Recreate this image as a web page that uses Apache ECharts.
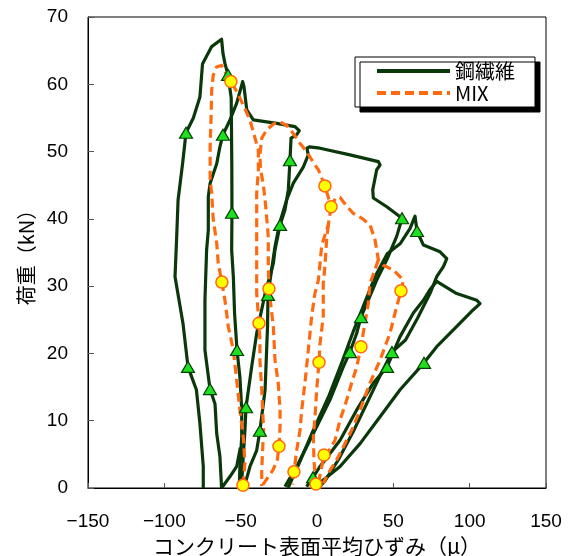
<!DOCTYPE html>
<html>
<head>
<meta charset="utf-8">
<script src="https://cdn.jsdelivr.net/npm/echarts@6/dist/echarts.min.js"></script>
<style>
html,body{margin:0;padding:0;background:#fff;}
#chart{width:571px;height:556px;}
</style>
</head>
<body>
<div id="chart"></div>
<script>
// ---- data (strain in μ, load in kN) ----
const seriesNames = ['鋼繊維', 'MIX'];
const xAxisTitle = 'コンクリート表面平均ひずみ（μ）';
const yAxisTitle = '荷重（kN）';

const steelLoop1 = [[-74.5,0],[-74.5,3.2],[-76.7,9.6],[-79,14.6],[-84.5,18],[-87.8,24.5],[-93,31.4],[-92,36.8],[-91,42.8],[-88,48.3],[-85.8,52.8],[-81,55],[-76.7,58.1],[-75,63],[-69,65.6],[-62.5,66.7],[-61.6,64.6],[-60.3,63.1],[-58.3,61.4],[-56.2,58],[-55.8,48],[-55.7,40.9],[-55.9,35.4],[-54.8,31.4],[-54,26],[-52.4,20.5],[-50.5,16.5],[-49.3,11.6],[-49.3,7.6],[-50.5,3.2],[-50.9,0]];
const steelLoop2 = [[-62.5,0],[-63.6,4.7],[-65.7,8.1],[-66.8,12.5],[-70.1,14.7],[-73.4,20.5],[-73.4,27.9],[-72.3,35.4],[-71.2,38.3],[-71.2,43.3],[-70,45.3],[-65.7,48.2],[-63.6,50.7],[-61.6,52.5],[-57,54.7],[-52.6,57.2],[-48.7,60.4],[-47.8,59.6],[-46,56.2],[-41.7,54.7],[-26.4,54.2],[-14.4,53.7],[-11.6,53.1],[-13.3,52.5],[-17,52],[-17.7,48.7],[-18.8,44.3],[-21,41.3],[-24.2,39.1],[-27.5,35.4],[-28.6,33.4],[-34,28.9],[-39.5,23],[-42.8,18],[-46.5,12],[-47.2,8.6],[-48.3,4.7],[-49.5,0]];
const steelLink = [[-62.5,0],[-57,1.7],[-52.6,3.2],[-50.2,6]];
const steelLoop3 = [[-47.2,0.5],[-43.9,3.2],[-39.5,5.6],[-37.4,8.5],[-34,14.6],[-33,20.5],[-32.4,24],[-32.1,28.7],[-30,32],[-27.5,35.9],[-24.5,39.3],[-19.9,42.8],[-15.5,45.3],[-9,47.7],[-5.7,49.5],[-6.6,50.5],[-5,50.7],[2,50.5],[21.6,49.5],[40.2,48.5],[41.3,48],[39.1,47.3],[36.5,44.3],[36.9,43.1],[45.7,41.8],[55.7,40.1],[52.2,37.4],[45.7,33.9],[39.1,30.9],[32.6,27.4],[28.8,25.4],[26,23],[21.6,20.2],[17.2,18],[8.5,13.1],[-2.4,8.1],[-13.3,3.2],[-21,0.2]];
const steelLoop4 = [[-19,0],[-12,3.5],[-3,8.3],[8,13.8],[16.5,18.8],[24,23.4],[31,27.4],[38,31.4],[46,34.8],[54.4,36.3],[61,38.6],[64.2,40.4],[65.5,38.2],[69.7,36.1],[80.6,35.1],[85,34.1],[82.8,32.9],[78.4,31.4],[74,28.9],[66,25.3],[58,22],[49.1,20.2],[42,17],[34,13.2],[24,8.5],[14,4.2],[5,1],[1,0]];
const steelLoop5 = [[-6.8,0.2],[-2.6,1.6],[2,3.2],[15.1,7.1],[26,11.6],[36.9,15.6],[45.9,18],[54.4,22.5],[63.1,26],[69.7,27.9],[74,29.5],[78.4,30.7],[91.5,28.9],[104.7,27.9],[106.8,27.4],[102.4,26.5],[89.3,23.5],[78.4,21],[70.1,18.6],[54.4,14.6],[41.3,10.6],[28.2,6.6],[15.1,3.2],[-1.3,0.2]];
const steelMarkers = [[-85.8,52.8],[-61.6,52.5],[-55.7,40.9],[-17.7,48.7],[-24.2,39.1],[-32.1,28.7],[-52.4,20.5],[-84.5,18],[-70.1,14.7],[-46.5,12],[-37.4,8.5],[55.7,40.1],[65.5,38.2],[28.8,25.4],[21.6,20.2],[45.9,18],[49.1,20.2],[70.1,18.6],[-2.6,1.6],[-58.3,61.4]];

const mixCurve1 = [[-48.5,0.4],[-47.2,3.7],[-48.3,7.6],[-50.5,11.6],[-52.6,16],[-54.8,20.5],[-58.1,24],[-60.3,27.9],[-62.3,30.6],[-64.7,33.4],[-65.7,36.4],[-68,40],[-69,43.8],[-70,45.8],[-70,50.7],[-69.3,55.7],[-69,59.1],[-68,61.3],[-65.7,62.6],[-62.5,62.8],[-60.3,61.9],[-56.4,60.4],[-52,58.7],[-47.5,56.5],[-43.9,54.7],[-40.6,52],[-38.4,50.2],[-38.4,47.3],[-39.5,43.8],[-39.5,40.3],[-39.5,35.1],[-39.5,28.9],[-38,24.5],[-37.4,22],[-37.4,19],[-36.2,14.6],[-35,8.6],[-36.2,2.7],[-36.2,0.3]];
const mixCurve2 = [[-35.4,0.5],[-31.5,1.8],[-28.8,2.7],[-26,4.2],[-24.9,6.2],[-24.2,9.1],[-24.2,11.6],[-25.4,15.6],[-27.5,19],[-28.6,24],[-31.5,29.6],[-31.9,33],[-31.9,37.3],[-33,40.3],[-34,42.8],[-35,44.8],[-37,47.5],[-37.4,49.5],[-36.2,52],[-33,53.2],[-28.6,54.1],[-24.2,54.4],[-19.9,53.9],[-15.5,52.7],[-11.1,51.2],[-6.8,50],[-1.3,48],[0.9,47.3],[5.2,44.9],[9.2,41.8]];
const mixCurve3 = [[9.2,41.8],[12,43],[15.1,43.2],[19,42],[23.8,40.8],[30,40],[34.7,39.1],[38,36.9],[40.2,33.9],[43.5,33.1],[50,32.4],[56.6,30.9],[55,29.3],[51.1,26],[47.8,23],[41.3,19],[34.7,15.6],[28.2,11.6],[23.8,9.1],[17.2,6.1],[12.9,4.2],[7.4,2.2],[4.1,0.7]];
const mixCurve4 = [[9.2,41.8],[7.4,39.1],[3.1,36.1],[2,33.4],[0.9,30.9],[-1.3,29],[-3.5,25.5],[-5.7,20.5],[-7.9,15.6],[-10,11.6],[-11.1,8.6],[-13.3,5.6],[-15.1,2.4],[-16,0.5]];
const mixCurve5 = [[7.4,39.1],[6.3,36.9],[5.2,32.9],[4.1,30.4],[4.1,25.5],[2,21.5],[1.3,18.7],[-0.2,14.6],[-1.3,10.6],[-2.4,7.6],[-2,4],[-0.7,0.6]];
const mixCurve6 = [[40.2,33.9],[36.5,31.5],[34.7,30.4],[33.6,27.4],[31,24],[28.8,21],[26,18],[22.7,15.6],[19.5,13.1],[15.1,10.1],[11.8,7.1],[8,5.6],[4.6,4.9],[2.5,2.5],[1,0.8]];
const mixMarkers = [[-56.4,60.4],[5.2,44.9],[9.2,41.8],[-62.3,30.6],[-31.5,29.6],[-38,24.5],[55,29.3],[1.3,18.7],[28.8,21],[-24.9,6.2],[4.6,4.9],[-15.1,2.4],[-48.5,0.4],[-0.7,0.6]];

const xRange = [-150, 150, 50];
const yRange = [0, 70, 10];

// ---- chart ----
const FONT = '"Liberation Sans", "Noto Sans CJK JP", sans-serif';
const JPFONT = '"Noto Sans CJK JP", sans-serif';
const GREEN = '#0a380a';
const ORANGE = '#ff6a10';

function lineSeries(name, data, color, dash, z, width) {
  return {
    name: name, type: 'line', data: data, symbol: 'none', z: z,
    lineStyle: { color: color, width: width || 3.2, type: dash || 'solid', cap: 'butt', join: 'round' },
    itemStyle: { color: color },
    emphasis: { disabled: true }, silent: true, animation: false
  };
}

const series = [];
[steelLoop1, steelLoop2, steelLink, steelLoop3, steelLoop4, steelLoop5].forEach(d => series.push(lineSeries(seriesNames[0], d, GREEN, null, 2)));
[mixCurve1, mixCurve2, mixCurve3, mixCurve4, mixCurve5, mixCurve6].forEach(d => series.push(lineSeries(seriesNames[1], d, ORANGE, [9, 5], 3)));
// empty series carrying the legend's short-dash look for MIX (draws nothing in the plot)
series.push(lineSeries(seriesNames[1], [], ORANGE, [7, 16], 3, 4));
series.push({
  name: 'steelMarks', type: 'scatter', data: steelMarkers, symbol: 'triangle', symbolSize: [13, 11], z: 4,
  itemStyle: { color: '#1ee01e', borderColor: '#064006', borderWidth: 1.2, opacity: 1 },
  emphasis: { disabled: true }, silent: true, animation: false
});
series.push({
  name: 'mixMarks', type: 'scatter', data: mixMarkers, symbol: 'circle', symbolSize: 12, z: 5,
  itemStyle: { color: '#ffff00', borderColor: '#ff6a10', borderWidth: 1.5, opacity: 1 },
  emphasis: { disabled: true }, silent: true, animation: false
});

const fmt = v => (v < 0 ? '\u2212' + Math.abs(v) : String(v));
const noSymbol = { color: 'rgba(0,0,0,0)', borderColor: 'rgba(0,0,0,0)', borderWidth: 0 };

const chart = echarts.init(document.getElementById('chart'), null, { renderer: 'canvas' });
chart.setOption({
  backgroundColor: '#ffffff',
  animation: false,
  grid: { left: 88, right: 25, top: 17, bottom: 68, outerBoundsMode: 'none', containLabel: false,
          show: true, borderColor: '#000', borderWidth: 1, backgroundColor: 'transparent' },
  xAxis: {
    type: 'value', min: xRange[0], max: xRange[1], interval: xRange[2],
    name: xAxisTitle, nameLocation: 'middle', nameGap: 45,
    nameTextStyle: { fontFamily: JPFONT, fontSize: 21, color: '#000' },
    axisLine: { show: true, onZero: false, lineStyle: { color: '#000', width: 1 } },
    axisTick: { show: true, inside: true, length: 5, lineStyle: { color: '#555' } },
    axisLabel: { formatter: fmt, fontFamily: FONT, fontSize: 19, color: '#000', margin: 24 },
    splitLine: { show: false }
  },
  yAxis: {
    type: 'value', min: yRange[0], max: yRange[1], interval: yRange[2],
    name: yAxisTitle, nameLocation: 'middle', nameGap: 50,
    nameTextStyle: { fontFamily: JPFONT, fontSize: 20, color: '#000' },
    axisLine: { show: true, onZero: false, lineStyle: { color: '#000', width: 1 } },
    axisTick: { show: true, inside: true, length: 6, lineStyle: { color: '#555' } },
    axisLabel: { formatter: fmt, fontFamily: FONT, fontSize: 19, color: '#000', margin: 20 },
    splitLine: { show: false }
  },
  legend: {
    data: [
      { name: seriesNames[0], itemStyle: noSymbol },
      { name: seriesNames[1], itemStyle: noSymbol }
    ],
    orient: 'vertical', left: 355, top: 57,
    padding: [3, 20, 3, 20], itemWidth: 73, itemHeight: 14, itemGap: 0,
    backgroundColor: '#fff', borderColor: '#000', borderWidth: 1,
    shadowColor: '#000', shadowBlur: 0, shadowOffsetX: 5, shadowOffsetY: 5,
    itemStyle: noSymbol,
    lineStyle: { width: 4 },
    textStyle: { fontFamily: JPFONT, fontSize: 20, lineHeight: 22, color: '#000' },
    selectedMode: false
  },
  series: series
});
</script>
</body>
</html>
